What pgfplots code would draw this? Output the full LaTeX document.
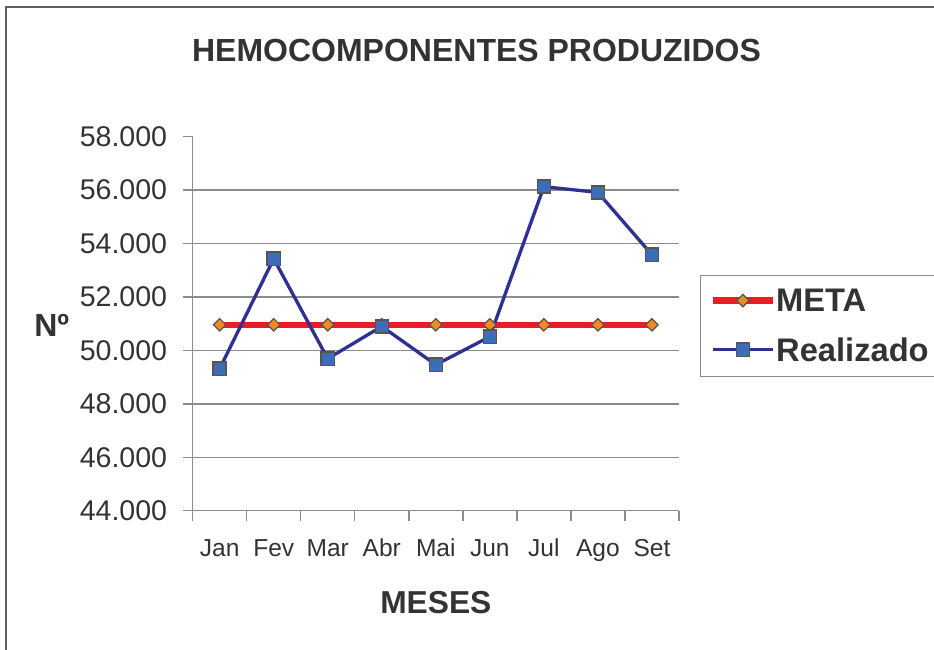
\documentclass[border=0pt]{standalone}
\usepackage{pgfplots}
\pgfplotsset{compat=1.18}
\usepackage{fontspec}
\setmainfont{Liberation Sans}
\definecolor{txt}{HTML}{333333}
\definecolor{gridg}{HTML}{8C8C8C}
\definecolor{framec}{HTML}{606060}
\definecolor{metared}{HTML}{ED1C24}
\definecolor{metaorange}{HTML}{F28A1E}
\definecolor{navy}{HTML}{2E3192}
\definecolor{sqblue}{HTML}{3D6DB8}
\definecolor{mkedge}{HTML}{555555}
\begin{document}
\begin{tikzpicture}
\useasboundingbox (0,0) rectangle (700.5pt,486.75pt);
\draw[framec, line width=1.1pt] (4.5pt,481.5pt) rectangle (720pt,-20pt);
\begin{axis}[
  at={(144.5pt,103.7pt)}, anchor=south west,
  scale only axis, width=364.7pt, height=280.5pt,
  xmin=-0.5, xmax=8.5, ymin=44000, ymax=58000,
  axis x line*=bottom, axis y line*=left,
  axis line style={-, draw=gridg, line width=1.1pt},
  tick align=outside,
  major tick length=7.5pt,
  tick style={draw=gridg, line width=1.1pt},
  xtick={-0.5,0.5,...,8.5}, xticklabels={},
  extra x ticks={0,1,2,3,4,5,6,7,8},
  extra x tick labels={Jan,Fev,Mar,Abr,Mai,Jun,Jul,Ago,Set},
  extra x tick style={major tick length=0pt, tick style={draw=none},
     xticklabel style={anchor=base, yshift=-34.7pt, inner sep=0pt}},
  ytick={44000,46000,...,58000},
  extra y ticks={46000,48000,...,56000},
  extra y tick labels={},
  extra y tick style={grid=major, major tick length=0pt},
  grid style={draw=gridg, line width=1.1pt},
  scaled y ticks=false,
  /pgf/number format/.cd, 1000 sep={.}, assume math mode=true, /pgfplots/.cd,
  yticklabel style={anchor=east, inner sep=0pt, xshift=-11.5pt, font=\fontsize{21.4}{24}\selectfont, text=txt},
  xticklabel style={font=\fontsize{18.4}{22}\selectfont, text=txt},
  title={HEMOCOMPONENTES PRODUZIDOS},
  title style={at={(axis description cs:0.5838,1.181)}, anchor=base, font=\bfseries\fontsize{24}{28}\selectfont, text=txt, inner sep=0pt},
  xlabel={MESES},
  xlabel style={at={(axis description cs:0.5,-0.2735)}, anchor=base, font=\bfseries\fontsize{23.8}{28}\selectfont, text=txt, inner sep=0pt},
  ylabel={Nº},
  ylabel style={at={(axis description cs:-0.29,0.4965)}, rotate=-90, anchor=center, font=\bfseries\fontsize{24}{28}\selectfont, text=txt, inner sep=0pt},
  legend style={at={(axis description cs:1.0425,0.6303)}, anchor=north west,
     draw=gridg, line width=1.1pt, fill=white,
     inner xsep=7pt, inner ysep=10pt, row sep=18pt,
     font=\bfseries\fontsize{24.5}{28}\selectfont, text=txt,
     nodes={inner sep=0pt}, cells={anchor=west},
     /tikz/every even column/.append style={column sep=6pt}},
  legend image code/.code={\draw[mark repeat=2,mark phase=2,#1] plot coordinates {(0pt,0.5pt) (22.5pt,0.5pt) (45pt,0.5pt)};},
]
\addplot[metared, line width=4.9pt, mark=square*, mark size=3.3pt,
  mark options={rotate=45, fill=metaorange, draw=mkedge, line width=0.9pt}]
  coordinates {(0,50960) (1,50960) (2,50960) (3,50960) (4,50960) (5,50960) (6,50960) (7,50960) (8,50960)};
\addlegendentry{\makebox[130pt][l]{META}}
\addplot[navy, line width=2.5pt, mark=square*, mark size=4.9pt,
  mark options={fill=sqblue, draw=mkedge, line width=1.1pt}]
  coordinates {(0,49316) (1,53433) (2,49690) (3,50900) (4,49465) (5,50514) (6,56130) (7,55916) (8,53583)};
\addlegendentry{\makebox[130pt][l]{Realizado}}
\end{axis}
\end{tikzpicture}
\end{document}
